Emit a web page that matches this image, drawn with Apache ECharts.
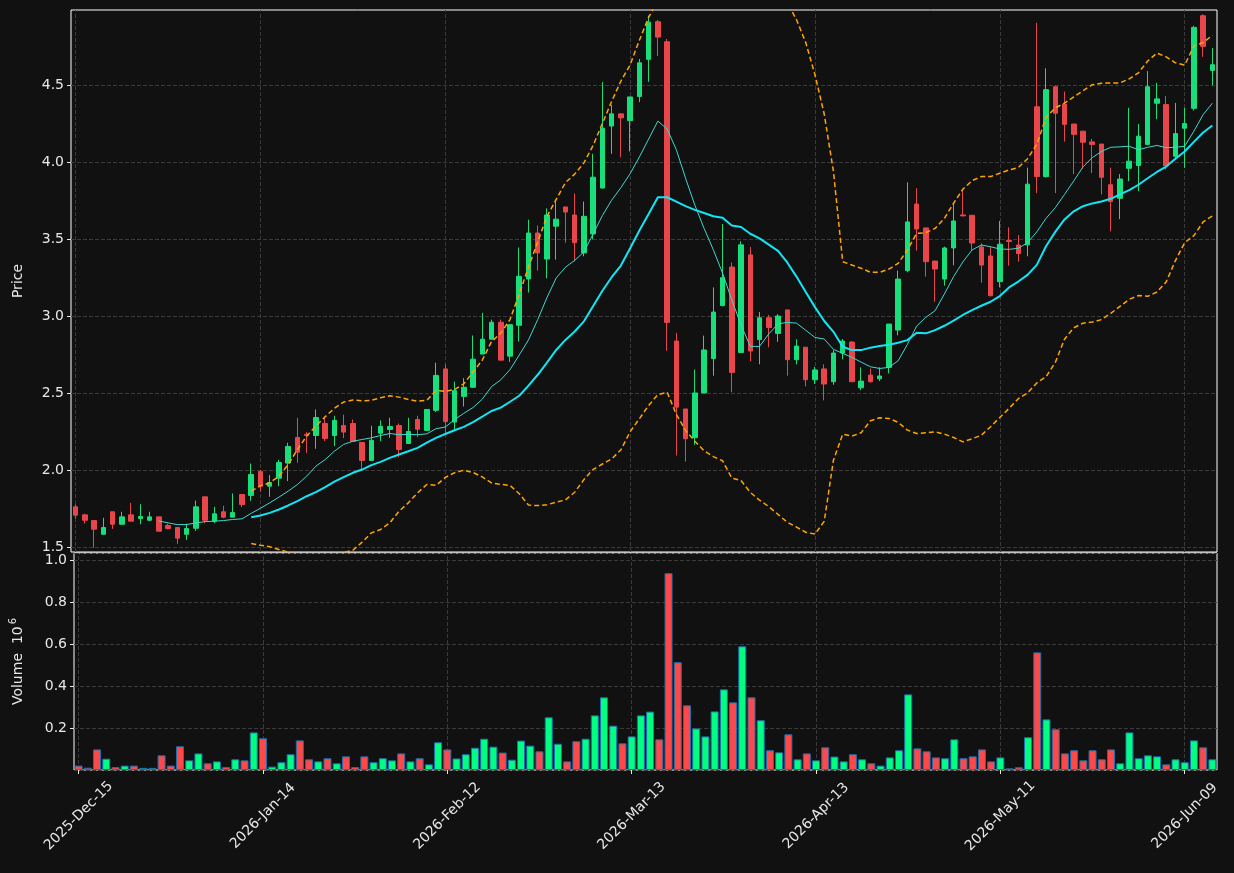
<!DOCTYPE html>
<html>
<head>
<meta charset="utf-8">
<title>Price / Volume</title>
<script src="https://cdn.jsdelivr.net/npm/echarts@6/dist/echarts.min.js"></script>
<style>
  html, body { margin: 0; padding: 0; background: #111111; }
  #chart { width: 1234px; height: 873px; }
</style>
</head>
<body>
<div id="chart"></div>
<script>
// trading days from 2025-12-15, weekends and exchange holidays skipped
const startDate = '2025-12-15';
const dayCount = 124;
const holidays = ['2025-12-25', '2026-01-01', '2026-01-19', '2026-02-16', '2026-04-03', '2026-05-25'];
const labelEvery = 20;

const priceTicks = [1.5, 2.0, 2.5, 3.0, 3.5, 4.0, 4.5];

const opens = [
  1.764, 1.712, 1.675, 1.586, 1.732, 1.651, 1.712, 1.688, 1.677, 1.699,
  1.643, 1.630, 1.586, 1.625, 1.829, 1.671, 1.732, 1.697, 1.844, 1.838,
  1.994, 1.898, 1.950, 2.048, 2.214, 2.235, 2.227, 2.305, 2.227, 2.292,
  2.305, 2.182, 2.065, 2.242, 2.266, 2.292, 2.175, 2.331, 2.260, 2.390,
  2.659, 2.314, 2.481, 2.540, 2.755, 2.852, 2.962, 2.742, 2.942, 3.243,
  3.541, 3.372, 3.585, 3.710, 3.658, 3.412, 3.535, 3.833, 4.235, 4.314,
  4.270, 4.427, 4.668, 4.912, 4.782, 2.840, 2.399, 2.213, 2.503, 2.726,
  3.070, 3.320, 2.766, 3.399, 2.849, 2.991, 2.889, 3.042, 2.719, 2.800,
  2.589, 2.659, 2.576, 2.762, 2.833, 2.537, 2.619, 2.595, 2.669, 2.911,
  3.297, 3.729, 3.574, 3.359, 3.242, 3.444, 3.658, 3.656, 3.450, 3.392,
  3.225, 3.492, 3.463, 3.464, 4.360, 3.907, 4.490, 4.376, 4.248, 4.202,
  4.132, 4.118, 3.854, 3.766, 3.961, 3.979, 4.116, 4.383, 4.374, 4.039,
  4.221, 4.350, 4.951, 4.596
];
const closes = [
  1.710, 1.677, 1.619, 1.630, 1.651, 1.699, 1.671, 1.701, 1.699, 1.606,
  1.623, 1.561, 1.623, 1.764, 1.677, 1.719, 1.697, 1.727, 1.779, 1.974,
  1.898, 1.922, 2.052, 2.156, 2.119, 2.228, 2.344, 2.208, 2.325, 2.249,
  2.188, 2.065, 2.195, 2.286, 2.286, 2.136, 2.253, 2.268, 2.396, 2.617,
  2.317, 2.518, 2.540, 2.722, 2.852, 2.962, 2.716, 2.946, 3.260, 3.541,
  3.412, 3.658, 3.631, 3.677, 3.478, 3.649, 3.903, 4.220, 4.314, 4.288,
  4.424, 4.645, 4.909, 4.812, 2.961, 2.411, 2.206, 2.503, 2.782, 3.028,
  3.251, 2.636, 3.464, 2.775, 2.991, 2.928, 3.002, 2.719, 2.807, 2.589,
  2.652, 2.561, 2.762, 2.840, 2.576, 2.580, 2.576, 2.613, 2.950, 3.242,
  3.613, 3.567, 3.355, 3.307, 3.444, 3.619, 3.652, 3.476, 3.333, 3.134,
  3.468, 3.486, 3.407, 3.858, 3.907, 4.471, 4.318, 4.246, 4.181, 4.130,
  4.116, 3.903, 3.745, 3.891, 4.007, 4.169, 4.490, 4.411, 3.977, 4.186,
  4.251, 4.875, 4.752, 4.633
];
const lows = [
  1.688, 1.656, 1.498, 1.586, 1.621, 1.651, 1.671, 1.651, 1.671, 1.606,
  1.617, 1.524, 1.548, 1.608, 1.658, 1.658, 1.690, 1.697, 1.762, 1.803,
  1.862, 1.829, 1.898, 1.931, 2.050, 2.115, 2.141, 2.190, 2.158, 2.210,
  2.188, 2.004, 2.065, 2.190, 2.212, 2.087, 2.175, 2.216, 2.255, 2.379,
  2.233, 2.266, 2.415, 2.536, 2.755, 2.852, 2.716, 2.705, 2.836, 3.155,
  3.297, 3.247, 3.368, 3.478, 3.357, 3.390, 3.499, 3.829, 4.055, 4.033,
  4.070, 4.390, 4.522, 4.689, 2.777, 2.097, 2.058, 2.167, 2.503, 2.615,
  3.065, 2.508, 2.766, 2.708, 2.689, 2.800, 2.835, 2.615, 2.689, 2.545,
  2.561, 2.455, 2.556, 2.721, 2.576, 2.522, 2.570, 2.580, 2.630, 2.877,
  3.286, 3.426, 3.258, 3.095, 3.199, 3.331, 3.650, 3.431, 3.219, 3.130,
  3.188, 3.329, 3.355, 3.390, 3.800, 3.900, 3.800, 4.134, 3.923, 3.958,
  3.930, 3.791, 3.552, 3.631, 3.877, 3.812, 4.110, 4.279, 3.954, 4.019,
  3.963, 4.336, 4.684, 4.499
];
const highs = [
  1.781, 1.719, 1.675, 1.693, 1.732, 1.732, 1.790, 1.781, 1.732, 1.699,
  1.654, 1.630, 1.654, 1.805, 1.829, 1.764, 1.771, 1.851, 1.844, 2.045,
  2.004, 1.970, 2.069, 2.180, 2.342, 2.249, 2.396, 2.349, 2.355, 2.362,
  2.331, 2.182, 2.290, 2.325, 2.342, 2.305, 2.342, 2.355, 2.396, 2.699,
  2.690, 2.577, 2.599, 2.876, 3.023, 2.979, 2.979, 2.946, 3.447, 3.627,
  3.589, 3.701, 3.758, 3.710, 3.798, 3.745, 4.055, 4.520, 4.373, 4.314,
  4.424, 4.670, 4.951, 4.923, 4.800, 2.893, 2.399, 2.654, 2.875, 3.188,
  3.599, 3.350, 3.487, 3.450, 3.028, 3.009, 3.014, 3.042, 2.852, 2.800,
  2.673, 2.689, 2.781, 2.853, 2.840, 2.669, 2.662, 2.669, 2.950, 3.297,
  3.870, 3.831, 3.574, 3.359, 3.452, 3.734, 3.825, 3.656, 3.474, 3.452,
  3.619, 3.578, 3.528, 3.965, 4.905, 4.610, 4.499, 4.459, 4.248, 4.202,
  4.151, 4.118, 3.965, 3.923, 4.353, 4.248, 4.592, 4.515, 4.429, 4.385,
  4.353, 4.886, 4.960, 4.742
];
// volume in millions
const volumes = [
  0.021, 0.011, 0.098, 0.054, 0.014, 0.021, 0.021, 0.010, 0.010, 0.070,
  0.021, 0.113, 0.046, 0.079, 0.032, 0.041, 0.014, 0.051, 0.046, 0.179,
  0.151, 0.016, 0.037, 0.075, 0.141, 0.051, 0.041, 0.056, 0.032, 0.065,
  0.014, 0.065, 0.037, 0.056, 0.046, 0.079, 0.041, 0.056, 0.027, 0.132,
  0.098, 0.055, 0.075, 0.106, 0.149, 0.111, 0.083, 0.049, 0.140, 0.116,
  0.089, 0.251, 0.125, 0.041, 0.137, 0.149, 0.260, 0.346, 0.211, 0.127,
  0.160, 0.260, 0.278, 0.146, 0.937, 0.513, 0.308, 0.198, 0.160, 0.279,
  0.384, 0.322, 0.589, 0.346, 0.237, 0.094, 0.084, 0.170, 0.051, 0.079,
  0.046, 0.108, 0.064, 0.041, 0.075, 0.051, 0.032, 0.021, 0.060, 0.094,
  0.360, 0.103, 0.089, 0.060, 0.056, 0.146, 0.056, 0.065, 0.098, 0.041,
  0.060, 0.008, 0.013, 0.156, 0.560, 0.241, 0.194, 0.079, 0.094, 0.046,
  0.094, 0.051, 0.098, 0.032, 0.179, 0.056, 0.070, 0.065, 0.027, 0.051,
  0.037, 0.141, 0.108, 0.051
];
const ma10 = [
  null, null, null, null, null, null, null, null, null, 1.673,
  1.660, 1.649, 1.649, 1.660, 1.668, 1.671, 1.675, 1.682, 1.686, 1.722,
  1.755, 1.790, 1.827, 1.866, 1.909, 1.963, 2.028, 2.071, 2.125, 2.169,
  2.190, 2.201, 2.212, 2.227, 2.240, 2.232, 2.234, 2.232, 2.238, 2.271,
  2.282, 2.330, 2.371, 2.408, 2.463, 2.544, 2.588, 2.654, 2.749, 2.847,
  2.979, 3.122, 3.249, 3.319, 3.363, 3.418, 3.535, 3.655, 3.754, 3.835,
  3.926, 4.034, 4.151, 4.267, 4.216, 4.081, 3.896, 3.722, 3.571, 3.432,
  3.281, 3.107, 2.944, 2.805, 2.805, 2.886, 2.951, 2.961, 2.956, 2.910,
  2.863, 2.853, 2.786, 2.760, 2.734, 2.703, 2.673, 2.662, 2.669, 2.712,
  2.818, 2.937, 2.994, 3.037, 3.145, 3.258, 3.353, 3.431, 3.463, 3.452,
  3.437, 3.435, 3.442, 3.478, 3.548, 3.636, 3.705, 3.791, 3.879, 3.970,
  4.030, 4.070, 4.097, 4.100, 4.104, 4.081, 4.097, 4.109, 4.095, 4.097,
  4.104, 4.202, 4.309, 4.383
];
const ma20 = [
  null, null, null, null, null, null, null, null, null, null,
  null, null, null, null, null, null, null, null, null, 1.697,
  1.708, 1.725, 1.747, 1.773, 1.801, 1.833, 1.859, 1.892, 1.927, 1.957,
  1.985, 2.006, 2.035, 2.056, 2.082, 2.104, 2.125, 2.147, 2.180, 2.212,
  2.237, 2.261, 2.283, 2.314, 2.349, 2.386, 2.408, 2.446, 2.485, 2.551,
  2.621, 2.700, 2.782, 2.847, 2.902, 2.968, 3.067, 3.166, 3.254, 3.330,
  3.442, 3.557, 3.664, 3.773, 3.773, 3.745, 3.715, 3.691, 3.671, 3.650,
  3.640, 3.589, 3.580, 3.536, 3.506, 3.466, 3.425, 3.350, 3.258, 3.158,
  3.060, 2.970, 2.900, 2.803, 2.781, 2.781, 2.797, 2.807, 2.816, 2.829,
  2.846, 2.894, 2.890, 2.911, 2.939, 2.972, 3.009, 3.041, 3.069, 3.095,
  3.132, 3.188, 3.226, 3.269, 3.334, 3.455, 3.548, 3.629, 3.682, 3.715,
  3.733, 3.745, 3.763, 3.791, 3.819, 3.854, 3.896, 3.937, 3.972, 4.023,
  4.070, 4.132, 4.193, 4.239
];
const bandUpper = [
  null, null, null, null, null, null, null, null, null, null,
  null, null, null, null, null, null, null, null, null, 1.866,
  1.900, 1.920, 1.963, 2.039, 2.136, 2.223, 2.288, 2.349, 2.403, 2.444,
  2.457, 2.452, 2.455, 2.472, 2.485, 2.476, 2.461, 2.450, 2.455, 2.519,
  2.514, 2.525, 2.562, 2.639, 2.716, 2.836, 2.891, 2.979, 3.144, 3.319,
  3.484, 3.649, 3.759, 3.868, 3.923, 3.996, 4.110, 4.252, 4.395, 4.527,
  4.632, 4.792, 4.940, 5.054, 5.038, 5.126, 5.170, 5.192, 5.214, 5.210,
  5.217, 5.227, 5.225, 5.214, 5.205, 5.166, 5.135, 5.036, 4.925, 4.777,
  4.568, 4.313, 3.940, 3.355, 3.333, 3.312, 3.286, 3.286, 3.307, 3.344,
  3.431, 3.539, 3.543, 3.571, 3.636, 3.734, 3.825, 3.881, 3.907, 3.907,
  3.929, 3.950, 3.966, 4.023, 4.116, 4.290, 4.353, 4.383, 4.425, 4.464,
  4.503, 4.513, 4.515, 4.515, 4.541, 4.580, 4.657, 4.708, 4.684, 4.645,
  4.631, 4.754, 4.777, 4.824
];
const bandLower = [
  null, null, null, null, null, null, null, null, null, null,
  null, null, null, null, null, null, null, null, null, 1.526,
  1.515, 1.505, 1.487, 1.470, 1.452, 1.440, 1.432, 1.438, 1.450, 1.468,
  1.482, 1.535, 1.595, 1.617, 1.660, 1.736, 1.790, 1.855, 1.909, 1.903,
  1.955, 1.985, 2.002, 1.987, 1.958, 1.919, 1.910, 1.903, 1.849, 1.776,
  1.772, 1.778, 1.794, 1.809, 1.859, 1.941, 2.007, 2.042, 2.075, 2.134,
  2.252, 2.336, 2.422, 2.492, 2.508, 2.364, 2.260, 2.190, 2.128, 2.090,
  2.063, 1.951, 1.935, 1.858, 1.807, 1.766, 1.715, 1.664, 1.633, 1.599,
  1.587, 1.670, 2.067, 2.236, 2.223, 2.245, 2.323, 2.342, 2.338, 2.312,
  2.262, 2.240, 2.245, 2.251, 2.236, 2.214, 2.186, 2.206, 2.229, 2.284,
  2.344, 2.403, 2.466, 2.503, 2.568, 2.608, 2.701, 2.852, 2.926, 2.956,
  2.963, 2.979, 3.019, 3.065, 3.111, 3.135, 3.130, 3.158, 3.223, 3.362,
  3.478, 3.524, 3.613, 3.652
];

const MONTHS = ['Jan', 'Feb', 'Mar', 'Apr', 'May', 'Jun', 'Jul', 'Aug', 'Sep', 'Oct', 'Nov', 'Dec'];
const textColor = '#e8e8e8';
const frameColor = '#ffffff';
const gridColor = '#3a3a3a';
const candleUp = '#18df7b';
const candleDown = '#e9464b';
const volUp = '#00ff80';
const volDown = '#ff4848';

const buildDates = () => {
  const out = [];
  const d = new Date(startDate + 'T00:00:00Z');
  while (out.length < dayCount) {
    const iso = d.toISOString().slice(0, 10);
    const wd = d.getUTCDay();
    if (wd !== 0 && wd !== 6 && !holidays.includes(iso)) {
      const dd = String(d.getUTCDate()).padStart(2, '0');
      out.push(d.getUTCFullYear() + '-' + MONTHS[d.getUTCMonth()] + '-' + dd);
    }
    d.setUTCDate(d.getUTCDate() + 1);
  }
  return out;
};

const dates = buildDates();
const tickDates = dates.filter((_, i) => i % labelEvery === 0);

// vertical dashed grid lines at the labelled dates, kept under the marks
const vLines = {
  silent: true,
  z: 1,
  symbol: 'none',
  label: { show: false },
  lineStyle: { color: gridColor, type: 'dashed', width: 1 },
  data: tickDates.map(d => ({ xAxis: d }))
};

const axisFont = { color: textColor, fontSize: 14, fontFamily: 'DejaVu Sans' };

const chart = echarts.init(document.getElementById('chart'));

chart.setOption({
  backgroundColor: '#111111',
  animation: false,
  grid: [
    { left: 71, top: 10, width: 1146, height: 542, show: true, borderColor: frameColor, borderWidth: 1 },
    { left: 71, top: 553, width: 1146, height: 217, show: true, borderColor: frameColor, borderWidth: 1 }
  ],
  xAxis: [
    {
      type: 'category', gridIndex: 0, data: dates, boundaryGap: true,
      axisLine: { show: false }, axisTick: { show: false }, axisLabel: { show: false },
      splitLine: { show: false }
    },
    {
      type: 'category', gridIndex: 1, data: dates, boundaryGap: true,
      axisLine: { show: false },
      axisTick: { show: true, interval: labelEvery - 1, alignWithLabel: true, length: 4, lineStyle: { color: textColor } },
      axisLabel: Object.assign({
        interval: labelEvery - 1, rotate: 45, align: 'center', verticalAlign: 'middle', margin: 46
      }, axisFont),
      splitLine: { show: false }
    }
  ],
  yAxis: [
    {
      type: 'value', gridIndex: 0, min: 1.471, max: 4.988,
      name: 'Price', nameLocation: 'middle', nameGap: 46,
      nameTextStyle: axisFont,
      axisLine: { show: false },
      axisTick: { show: true, length: 4, customValues: priceTicks, lineStyle: { color: textColor } },
      axisLabel: Object.assign({ customValues: priceTicks, formatter: v => v.toFixed(1), margin: 7 }, axisFont),
      splitLine: { show: true, lineStyle: { color: gridColor, type: 'dashed' } }
    },
    {
      type: 'value', gridIndex: 1, min: 0, max: 1.033, interval: 0.2,
      name: '{a|Volume  10}{b|6}', nameLocation: 'middle', nameGap: 46,
      nameTextStyle: Object.assign({
        rich: {
          a: { color: textColor, fontSize: 14, fontFamily: 'DejaVu Sans', lineHeight: 20 },
          b: { color: textColor, fontSize: 10, fontFamily: 'DejaVu Sans', lineHeight: 20, verticalAlign: 'top', padding: [0, 0, 4, 2] }
        }
      }, axisFont),
      axisLine: { show: false },
      axisTick: { show: true, length: 4, lineStyle: { color: textColor } },
      axisLabel: Object.assign({ showMinLabel: false, formatter: v => v.toFixed(1), margin: 7 }, axisFont),
      splitLine: { show: true, lineStyle: { color: gridColor, type: 'dashed' } }
    }
  ],
  series: [
    {
      name: 'OHLC',
      type: 'candlestick',
      xAxisIndex: 0, yAxisIndex: 0,
      barWidth: 5,
      data: dates.map((_, i) => [opens[i], closes[i], lows[i], highs[i]]),
      itemStyle: {
        color: candleUp, color0: candleDown,
        borderColor: candleUp, borderColor0: candleDown, borderWidth: 1
      },
      markLine: vLines,
      z: 2
    },
    {
      name: 'MA10', type: 'line', xAxisIndex: 0, yAxisIndex: 0,
      data: ma10, symbol: 'none', lineStyle: { color: '#3ed8cf', width: 1 }, z: 3
    },
    {
      name: 'MA20', type: 'line', xAxisIndex: 0, yAxisIndex: 0,
      data: ma20, symbol: 'none', lineStyle: { color: '#12e6f5', width: 2 }, z: 3
    },
    {
      name: 'Upper', type: 'line', xAxisIndex: 0, yAxisIndex: 0,
      data: bandUpper, symbol: 'none', lineStyle: { color: '#ffa500', width: 1.5, type: [5, 3] }, z: 3
    },
    {
      name: 'Lower', type: 'line', xAxisIndex: 0, yAxisIndex: 0,
      data: bandLower, symbol: 'none', lineStyle: { color: '#ffa500', width: 1.5, type: [5, 3] }, z: 3
    },
    {
      name: 'Volume',
      type: 'bar',
      xAxisIndex: 1, yAxisIndex: 1,
      barWidth: 8,
      data: volumes.map((v, i) => ({
        value: v,
        itemStyle: { color: closes[i] >= opens[i] ? volUp : volDown }
      })),
      itemStyle: { borderColor: '#1f6fae', borderWidth: 1 },
      markLine: vLines,
      z: 2
    }
  ]
});
</script>
</body>
</html>
